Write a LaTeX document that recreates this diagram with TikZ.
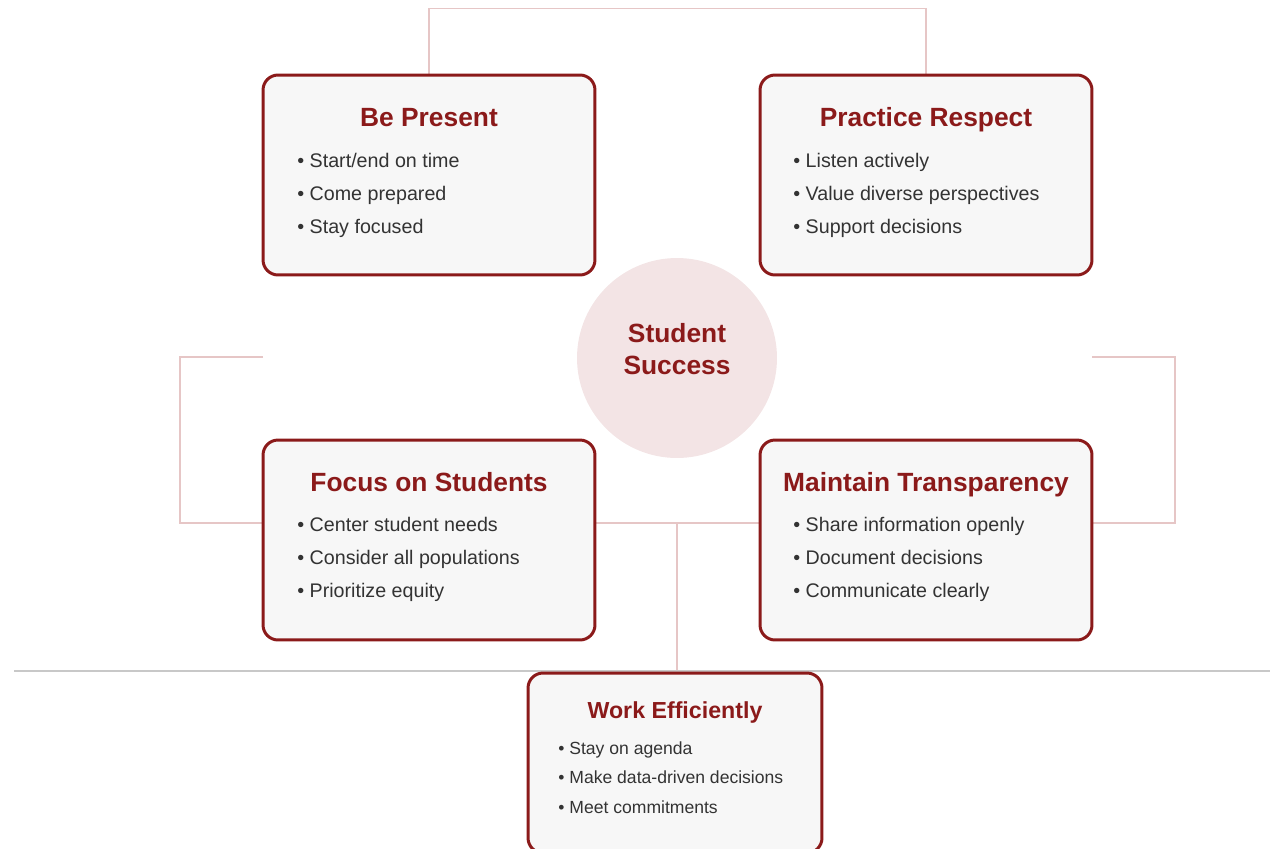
\documentclass[tikz,border=0pt]{standalone}
\usepackage{fontspec}
\setmainfont{Liberation Sans}
\usepackage{xcolor}
\usetikzlibrary{positioning,backgrounds}

\definecolor{maroon}{HTML}{8B1A1A}
\definecolor{cardgray}{HTML}{F7F7F7}
\definecolor{corepink}{HTML}{F3E4E5}
\definecolor{linkpink}{HTML}{E6C6C6}
\definecolor{itemgray}{HTML}{333333}
\definecolor{rulegray}{HTML}{C8C8C8}

\begin{document}
\begin{tikzpicture}[
    x=0.02cm, y=-0.02cm,
    every node/.style={font=\small},
    card/.style={rectangle, rounded corners=0.3cm, draw=maroon, line width=1.7pt,
                 fill=cardgray, minimum width=6.64cm, minimum height=4cm, inner sep=0pt},
    cardtitle/.style={anchor=base, text=maroon, inner sep=0pt,
                      font=\fontsize{15}{18}\selectfont\bfseries},
    item/.style={anchor=base west, text=itemgray, inner sep=0pt,
                 font=\fontsize{11.2}{13}\selectfont},
    core/.style={circle, fill=corepink, minimum size=4cm, inner sep=0pt},
    corelabel/.style={align=center, text=maroon, inner sep=0pt,
                      font=\fontsize{15}{18.2}\selectfont\bfseries},
    link/.style={draw=linkpink, line width=0.85pt},
    divider/.style={draw=rulegray, line width=0.8pt},
]
\useasboundingbox (0,0) rectangle (1270,848);

% -------- the four cards --------
\node[card] (present) at (429,175) {};
\node[card] (respect) at (926,175) {};
\node[card] (focus)   at (429,540) {};
\node[card] (clarity) at (926,540) {};

% work card hangs off the bottom edge
\node[card, minimum width=5.88cm, minimum height=3.6cm] (efficient) at (675,763) {};

% centre circle
\node[core] (success) at (677,358) {};
\node[corelabel] (success-t) at (677,349) {Student\\Success};

% -------- connectors, kept behind the cards --------
\coordinate (lefttip)  at (263,357);
\coordinate (righttip) at (1092,357);
\coordinate (hub)      at (677,523);

\begin{scope}[on background layer]
  \draw[link] (present.north) -- ++(0,-65) -| (respect.north);
  \draw[link] (lefttip) -- ++(-83,0) |- ([yshift=0.34cm]focus.west);
  \draw[link] (righttip) -- ++(83,0) |- ([yshift=0.34cm]clarity.east);
  \draw[link] ([yshift=0.34cm]focus.east) -- ([yshift=0.34cm]clarity.west);
  \draw[link] (hub) -- (hub |- efficient.north);

  % horizontal rule above the last card
  \draw[divider] (14,671) -- (1270,671);
\end{scope}

% -------- card texts --------
\node[cardtitle] (present-t) at (429,126) {Be Present};
\foreach \txt [count=\i] in {Start/end on time, Come prepared, Stay focused}
  \node[item] (present-\i) at (297,134+33*\i) {• \txt};

\node[cardtitle] (respect-t) at (926,126) {Practice Respect};
\foreach \txt [count=\i] in {Listen actively, Value diverse perspectives, Support decisions}
  \node[item] (respect-\i) at (793,134+33*\i) {• \txt};

\node[cardtitle] (focus-t) at (429,491) {Focus on Students};
\foreach \txt [count=\i] in {Center student needs, Consider all populations, Prioritize equity}
  \node[item] (focus-\i) at (297,498+33*\i) {• \txt};

\node[cardtitle] (clarity-t) at (926,491) {Maintain Transparency};
\foreach \txt [count=\i] in {Share information openly, Document decisions, Communicate clearly}
  \node[item] (clarity-\i) at (793,498+33*\i) {• \txt};

\node[cardtitle, font=\fontsize{13.2}{16}\selectfont\bfseries] (efficient-t) at (675,718)
  {Work Efficiently};
\foreach \txt [count=\i] in {Stay on agenda, Make data-driven decisions, Meet commitments}
  \node[item, font=\fontsize{10}{12}\selectfont] (efficient-\i) at (558,724.5+29.5*\i) {• \txt};

\end{tikzpicture}
\end{document}
